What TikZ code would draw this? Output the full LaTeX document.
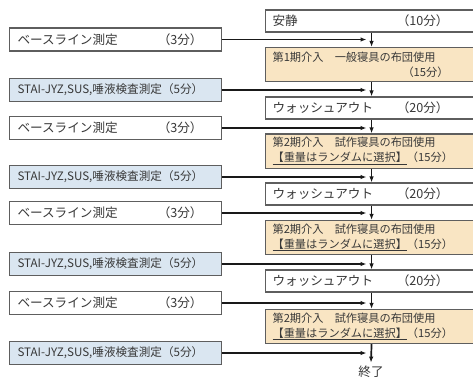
\documentclass[tikz,border=0pt]{standalone}
\usepackage{fontspec}
\setmainfont{Noto Sans CJK JP}
\usepackage{tikz}
\usetikzlibrary{arrows.meta}

\definecolor{txtgray}{HTML}{383838}
\definecolor{linegray}{HTML}{5E5E5E}
\definecolor{boxblue}{HTML}{DAE6F1}
\definecolor{boxtan}{HTML}{F9E5C3}

\newcommand{\basetxt}{\makebox[185pt][l]{ベースライン測定\hfill（3分）}}
\newcommand{\meastxt}{STAI-JYZ,SUS,唾液検査測定（5分）}
\newcommand{\washtxt}{\makebox[176pt][l]{ウォッシュアウト\hfill（20分）}}
\newcommand{\trialtxt}{第2期介入　試作寝具の布団使用\\\makebox[176pt][l]{\underline{【重量はランダムに選択】}\hfill（15分）}}

\begin{document}
\begin{tikzpicture}[x=1pt,y=-1pt,
	leftbox/.style={draw=linegray, line width=1.1pt, fill=white, anchor=west, minimum width=212pt, minimum height=23pt, inner xsep=8pt, text width=196pt, align=left, text=txtgray, font=\fontsize{12.6}{14}\selectfont},
	measbox/.style={leftbox, fill=boxblue, font=\fontsize{11.6}{13}\selectfont},
	rightbox/.style={draw=linegray, line width=1.1pt, fill=white, anchor=west, minimum width=212pt, minimum height=22pt, inner xsep=7pt, text width=198pt, align=left, text=txtgray, font=\fontsize{12.6}{14}\selectfont},
	stagebox/.style={rightbox, fill=boxtan, minimum height=34pt, font=\fontsize{11.2}{15}\selectfont},
	harrow/.style={-{Latex[length=6pt,width=4.5pt]}, line width=1.7pt, draw=black!90, shorten >=5pt},
	varrow/.style={-{Latex[length=6pt,width=4.5pt]}, line width=1.7pt, draw=black!90}]
	\clip (0,0) rectangle (473,378);
	
	% draw right column
	\node[rightbox] (r0) at (265,21) {\makebox[176pt][l]{安静\hfill（10分）}};
	\node[stagebox] (r1) at (265,64.5) {第1期介入　一般寝具の布団使用\\\makebox[176pt][r]{（15分）}};
	\node[rightbox] (r2) at (265,108) {\washtxt};
	\node[stagebox] (r3) at (265,151) {\trialtxt};
	\node[rightbox] (r4) at (265,194) {\washtxt};
	\node[stagebox] (r5) at (265,237.5) {\trialtxt};
	\node[rightbox] (r6) at (265,281) {\washtxt};
	\node[stagebox] (r7) at (265,326.5) {\trialtxt};
	\node[text=txtgray, font=\fontsize{12.6}{14}\selectfont] (end) at (371,372) {終了};
	
	% draw left column
	\foreach \k/\y in {1/39.5,3/128,5/213,7/303}
	\node[leftbox] (l\k) at (9,\y) {\basetxt};
	\foreach \k/\y in {2/90,4/177,6/264,8/353}
	\node[measbox] (l\k) at (9,\y) {\meastxt};
	
	% draw arrows
	\foreach \a/\b in {r0/r1,r1/r2,r2/r3,r3/r4,r4/r5,r5/r6,r6/r7,r7/end}
	\draw[varrow] (\a.south) -- (\b.north);
	\foreach \k in {1,...,8}
	\draw[harrow] (l\k.east) -- (l\k.east -| r0.south);
\end{tikzpicture}
\end{document}
